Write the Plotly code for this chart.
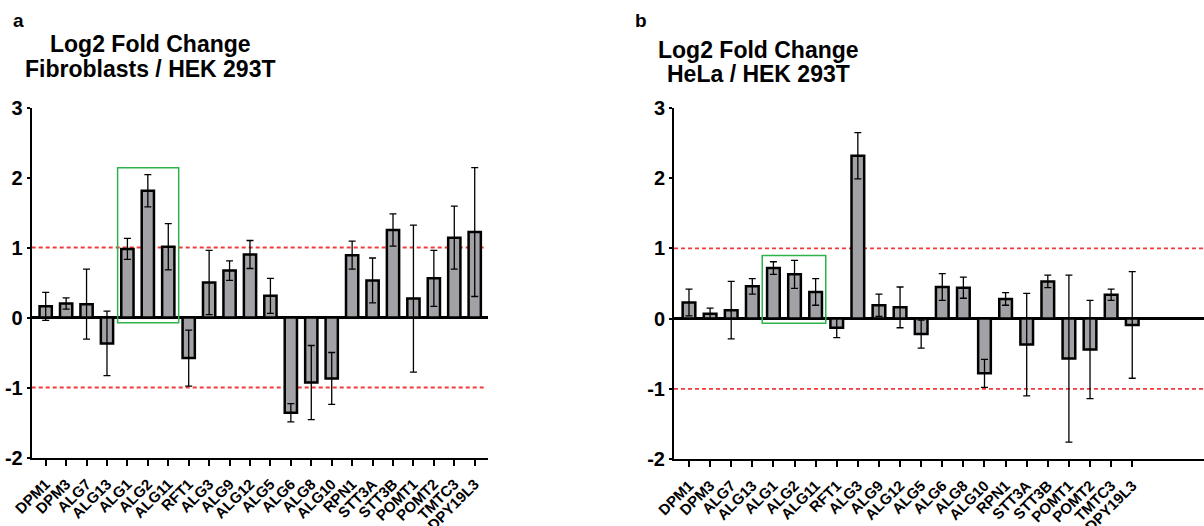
import plotly.graph_objects as go

genes = ["DPM1", "DPM3", "ALG7", "ALG13", "ALG1", "ALG2", "ALG11", "RFT1", "ALG3", "ALG9",
         "ALG12", "ALG5", "ALG6", "ALG8", "ALG10", "RPN1", "STT3A", "STT3B", "POMT1", "POMT2",
         "TMTC3", "DPY19L3"]

fib_vals = [0.16, 0.20, 0.19, -0.37, 0.98, 1.81, 1.01, -0.58, 0.50, 0.67,
            0.90, 0.31, -1.36, -0.93, -0.87, 0.89, 0.53, 1.25, 0.27, 0.56,
            1.14, 1.22]
fib_err = [0.20, 0.08, 0.50, 0.46, 0.15, 0.23, 0.33, 0.40, 0.46, 0.14,
           0.20, 0.25, 0.13, 0.53, 0.37, 0.20, 0.32, 0.23, 1.05, 0.40,
           0.45, 0.92]

hela_vals = [0.23, 0.07, 0.12, 0.46, 0.72, 0.63, 0.38, -0.13, 2.32, 0.19,
             0.16, -0.22, 0.45, 0.44, -0.78, 0.28, -0.37, 0.53, -0.57, -0.44,
             0.34, -0.09]
hela_err = [0.19, 0.08, 0.41, 0.11, 0.09, 0.20, 0.19, 0.14, 0.33, 0.16,
            0.29, 0.20, 0.19, 0.15, 0.20, 0.09, 0.73, 0.09, 1.19, 0.70,
            0.08, 0.76]

y_ticks = [-2, -1, 0, 1, 2, 3]
y_ticktext = ["-2", "-1", "0", "1", "2", "3"]

FONT = "Liberation Sans, Arial, sans-serif"
BAR_FILL = "#a2a2a6"
xpos = list(range(len(genes)))

fig = go.Figure()

for vals, errs, xa, ya in [(fib_vals, fib_err, "x", "y"), (hela_vals, hela_err, "x2", "y2")]:
    fig.add_trace(go.Bar(
        x=xpos, y=vals, width=0.6,
        marker=dict(color=BAR_FILL, line=dict(color="black", width=2.5)),
        error_y=dict(type="data", array=errs, visible=True, color="black",
                     thickness=1.3, width=3.5),
        xaxis=xa, yaxis=ya, showlegend=False,
    ))

common_x = dict(
    tickmode="array", tickvals=xpos, ticktext=genes, tickangle=-45,
    tickfont=dict(family=FONT, size=15, color="black", weight="bold"),
    ticks="outside", ticklen=6, tickwidth=1.5, tickcolor="black",
    ticklabelstandoff=4,
    showline=True, linecolor="black", linewidth=2, showgrid=False,
    zeroline=False, automargin=False,
)
common_y = dict(
    range=[-2, 3], tickmode="array", tickvals=y_ticks, ticktext=y_ticktext,
    tickfont=dict(family=FONT, size=20, color="black", weight="bold"),
    ticks="outside", ticklen=3, tickwidth=1.5, tickcolor="black",
    showline=True, linecolor="black", linewidth=2, showgrid=False,
    zeroline=True, zerolinecolor="black", zerolinewidth=2.5, automargin=False,
)

W, H = 1204, 526
fig.update_layout(
    width=W, height=H,
    margin=dict(l=0, r=0, t=0, b=0),
    plot_bgcolor="white", paper_bgcolor="white",
    bargap=0.4,
    xaxis=dict(common_x, domain=[31.7 / W, 488 / W], range=[-0.685, 21.65], anchor="y"),
    yaxis=dict(common_y, domain=[1 - 457.5 / H, 1 - 107.5 / H], anchor="x"),
    xaxis2=dict(common_x, domain=[674 / W, 1.0], range=[-0.71, 24.4], anchor="y2"),
    yaxis2=dict(common_y, domain=[1 - 459 / H, 1 - 108 / H], anchor="x2"),
)

shapes = []
RED = "#f23a3a"
for xr, yr, x0, x1 in [("x", "y", -0.685, 21.54), ("x2", "y2", -0.71, 24.4)]:
    for yv in (1, -1):
        shapes.append(dict(type="line", xref=xr, yref=yr, x0=x0, x1=x1, y0=yv, y1=yv,
                           line=dict(color=RED, width=1.8, dash="4px,3px"), layer="below"))
GREEN = "#2db34a"
shapes.append(dict(type="rect", xref="x", yref="y", x0=3.52, x1=6.51, y0=-0.076, y1=2.14,
                   line=dict(color=GREEN, width=1.5), fillcolor="rgba(0,0,0,0)"))
shapes.append(dict(type="rect", xref="x2", yref="y2", x0=3.47, x1=6.48, y0=-0.067, y1=0.90,
                   line=dict(color=GREEN, width=1.5), fillcolor="rgba(0,0,0,0)"))
fig.update_layout(shapes=shapes)

def label(text, x, y, size, xanchor="center"):
    return dict(text=text, x=x / W, y=1 - y / H, xref="paper", yref="paper",
                xanchor=xanchor, yanchor="middle", showarrow=False,
                font=dict(family=FONT, size=size, color="black", weight="bold"))

ann = [
    label("a", 11, 21, 19, "left"),
    label("b", 633, 21, 19, "left"),
    label("Log2 Fold Change", 150, 44, 23),
    label("Fibroblasts / HEK 293T", 150, 69, 23),
    label("Log2 Fold Change", 758, 49.5, 23),
    label("HeLa / HEK 293T", 758, 74, 23),
]
fig.update_layout(annotations=ann)

fig.write_html("out.html", config={"displayModeBar": False},
               post_script="document.body.style.margin='0';document.body.style.overflow='hidden';")
